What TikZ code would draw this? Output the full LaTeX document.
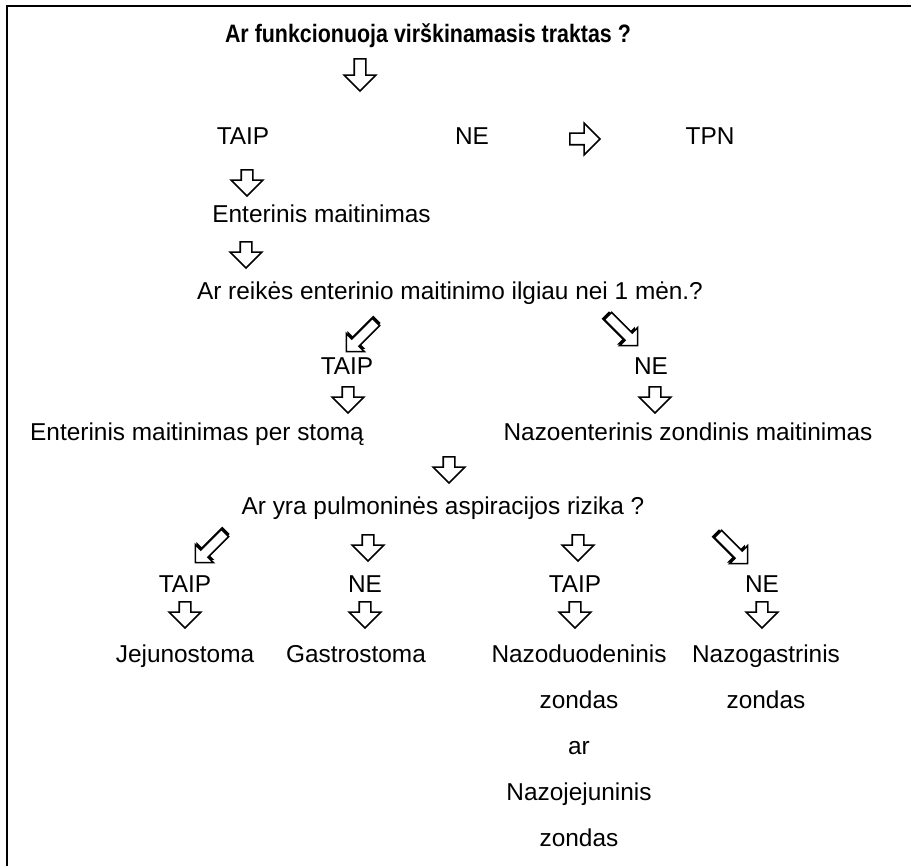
\documentclass[tikz,border=0pt]{standalone}
\usepackage{fontspec}
\setmainfont{Liberation Sans}
\newfontfamily\titlefont[FakeStretch=0.85]{Liberation Sans}
\usetikzlibrary{shapes.arrows,shadows}
\tikzset{
  font=\fontsize{12.2}{23}\selectfont,
  txt/.style    ={inner sep=0pt, anchor=base},
  ttl/.style    ={inner sep=0pt, anchor=base, font=\titlefont\fontsize{12.6}{23}\selectfont\bfseries},
  barrow/.style ={single arrow, draw, line width=0.8pt, fill=white, inner xsep=0pt, inner ysep=2.5pt,
                  single arrow head extend=5pt, minimum height=13pt},
  darrow/.style ={single arrow, draw, line width=0.8pt, fill=white, inner xsep=0pt, inner ysep=2.2pt,
                  single arrow head extend=3.8pt, minimum height=21pt},
  swarrow/.style={darrow, rotate=-135, drop shadow={shadow xshift=0.5pt, shadow yshift=1.35pt, fill=black, opacity=1}},
  searrow/.style={darrow, rotate=-45, drop shadow={shadow xshift=-1.35pt, shadow yshift=0.5pt, fill=black, opacity=1}},
}

\begin{document}
\begin{tikzpicture}[x=0.5pt, y=-0.5pt]
  \useasboundingbox (0,0) rectangle (911,866);
  % frame
  \draw[line width=1pt] (7,866) -- (7,6) -- (911,6);
  % first question
  \node[ttl] (q1) at (428,43) {Ar funkcionuoja virškinamasis traktas ?};
  \node[barrow, minimum height=16pt, rotate=-90] (a1) at (360,72) {};
  \node[txt] (taip1) at (243,145) {TAIP};
  \node[txt] (ne1) at (472,145) {NE};
  \node[barrow, minimum height=15pt] (a2) at (582,139) {};
  \node[txt] (tpn) at (710,145) {TPN};
  \node[barrow, rotate=-90] (a3) at (247,180) {};
  \node[txt, anchor=base west] (ent) at (212,223) {Enterinis maitinimas};
  \node[barrow, rotate=-90] (a4) at (246,252) {};
  % second question
  \node[txt] (q2) at (450,300) {Ar reikės enterinio maitinimo ilgiau nei 1 mėn.?};
  \node[swarrow] (a5) at (363,335) {};
  \node[searrow] (a6) at (621,329) {};
  \node[txt] (taip2) at (347,375) {TAIP};
  \node[txt] (ne2) at (651,375) {NE};
  \node[barrow, rotate=-90] (a7) at (348,397) {};
  \node[barrow, rotate=-90] (a8) at (655,397) {};
  \node[txt] (stoma) at (197,441) {Enterinis maitinimas per stomą};
  \node[txt] (nazo) at (688,441) {Nazoenterinis zondinis maitinimas};
  \node[barrow, rotate=-90] (a9) at (449,467) {};
  % third question
  \node[txt] (q3) at (443,514) {Ar yra pulmoninės aspiracijos rizika ?};
  \node[swarrow] (a10) at (212,546) {};
  \node[barrow, rotate=-90] (a11) at (368,545) {};
  \node[barrow, rotate=-90] (a12) at (578,545) {};
  \node[searrow] (a13) at (731,547) {};
  \foreach \x/\lab/\n in {185/TAIP/1, 365/NE/2, 575/TAIP/3, 762/NE/4} {
    \node[txt] (ans\n) at (\x,592) {\lab};
    \node[barrow, rotate=-90] (d\n) at (\x,612) {};
  }
  % outcomes
  \node[txt] (jej) at (185,662) {Jejunostoma};
  \node[txt] (gas) at (356,662) {Gastrostoma};
  \node[txt, anchor=north, align=center] (duo) at (579,644) {Nazoduodeninis\\zondas\\ar\\Nazojejuninis\\zondas};
  \node[txt, anchor=north, align=center] (ngas) at (766,644) {Nazogastrinis\\zondas};
\end{tikzpicture}
\end{document}
